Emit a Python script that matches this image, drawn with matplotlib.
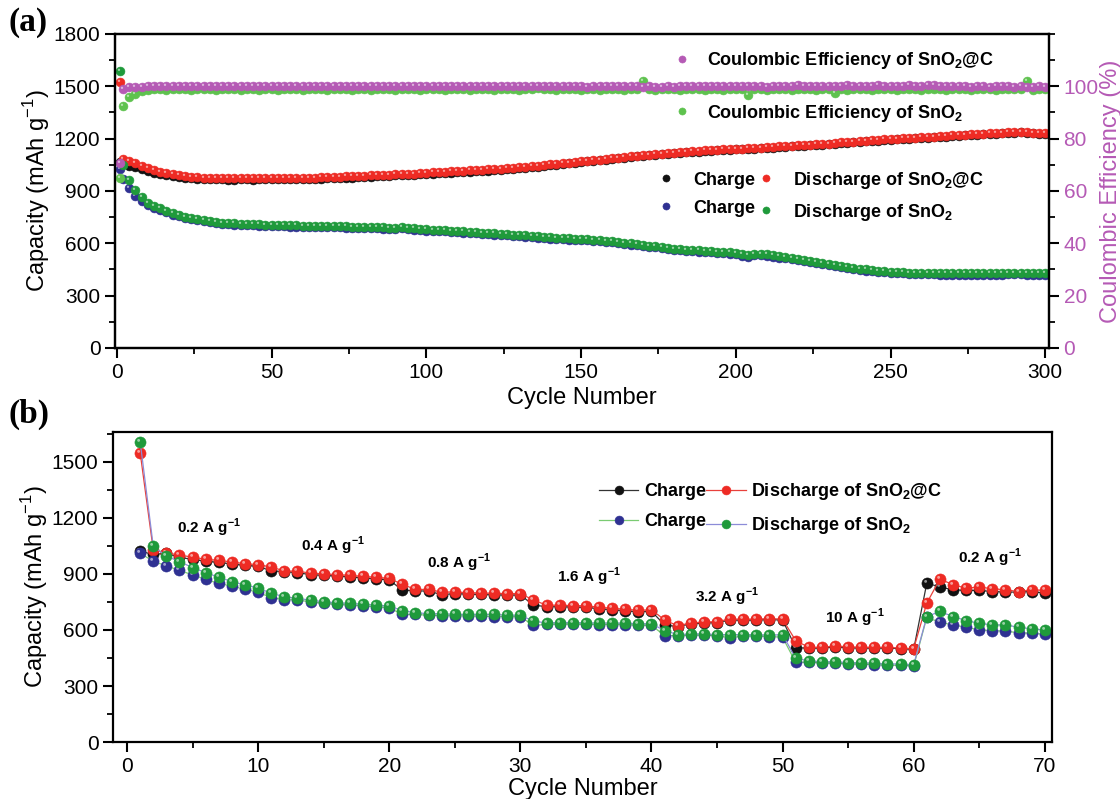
import numpy as np
import matplotlib
matplotlib.use("Agg")
import matplotlib.pyplot as plt
from matplotlib.path import Path
from matplotlib.ticker import MultipleLocator

plt.rcParams['font.family'] = ['Liberation Sans', 'DejaVu Sans']
plt.rcParams['mathtext.fontset'] = 'custom'
plt.rcParams['mathtext.rm'] = 'Liberation Sans'
plt.rcParams['mathtext.bf'] = 'Liberation Sans:bold'

# ---------------- (a) long cycling, every 2nd cycle ----------------
cyc_a = [1] + list(range(2, 301, 2))

dis_c = [1525,
         1085, 1070, 1058, 1045, 1032, 1020, 1010, 1002, 996, 990,
         985, 981, 978, 976, 975, 974, 973, 973, 972, 973,
         973, 972, 974, 973, 974, 975, 974, 975, 976, 976,
         977, 977, 978, 979, 980, 981, 983, 984, 986, 988,
         989, 991, 992, 994, 996, 997, 999, 1000, 1002, 1004,
         1006, 1008, 1010, 1012, 1014, 1016, 1018, 1020, 1022, 1024,
         1026, 1028, 1031, 1033, 1036, 1039, 1042, 1045, 1048, 1052,
         1055, 1059, 1062, 1066, 1070, 1073, 1077, 1080, 1084, 1088,
         1091, 1095, 1099, 1102, 1106, 1108, 1111, 1114, 1117, 1120,
         1123, 1125, 1128, 1130, 1133, 1135, 1137, 1139, 1140, 1142,
         1143, 1145, 1146, 1148, 1150, 1152, 1155, 1157, 1160, 1162,
         1164, 1166, 1168, 1170, 1172, 1175, 1178, 1180, 1183, 1186,
         1188, 1191, 1193, 1196, 1198, 1200, 1202, 1204, 1206, 1208,
         1210, 1212, 1214, 1216, 1218, 1220, 1222, 1224, 1226, 1228,
         1230, 1232, 1234, 1236, 1238, 1240, 1238, 1235, 1233, 1232]

chg_c = [1065,
         1055, 1045, 1035, 1025, 1015, 1005, 997, 990, 985, 980,
         976, 972, 970, 968, 967, 966, 966, 965, 965, 966,
         966, 965, 966, 966, 967, 967, 967, 968, 969, 969,
         970, 970, 971, 972, 973, 974, 976, 977, 979, 981,
         982, 984, 985, 987, 989, 990, 992, 993, 995, 997,
         999, 1001, 1003, 1005, 1007, 1009, 1011, 1013, 1015, 1017,
         1019, 1021, 1024, 1026, 1029, 1032, 1035, 1038, 1042, 1046,
         1050, 1054, 1058, 1062, 1066, 1069, 1073, 1076, 1080, 1084,
         1087, 1091, 1095, 1098, 1102, 1104, 1107, 1110, 1113, 1116,
         1119, 1121, 1124, 1126, 1129, 1131, 1133, 1135, 1136, 1138,
         1139, 1141, 1142, 1144, 1146, 1148, 1151, 1153, 1156, 1158,
         1160, 1162, 1164, 1166, 1168, 1171, 1174, 1176, 1179, 1182,
         1184, 1187, 1189, 1192, 1194, 1196, 1198, 1200, 1202, 1204,
         1206, 1208, 1210, 1212, 1214, 1216, 1218, 1220, 1222, 1224,
         1226, 1228, 1230, 1232, 1234, 1236, 1234, 1231, 1229, 1228]

dis_s = [1590,
         1049, 963, 906, 867, 833, 814, 801, 787, 772, 762,
         753, 744, 738, 732, 727, 723, 719, 717, 714, 712,
         711, 710, 709, 707, 706, 705, 704, 703, 703, 702,
         701, 701, 700, 699, 699, 698, 697, 696, 695, 694,
         693, 692, 691, 690, 689, 695, 688, 686, 683, 680,
         679, 677, 675, 672, 670, 668, 666, 664, 661, 659,
         657, 654, 652, 649, 647, 645, 643, 640, 637, 634,
         632, 630, 628, 627, 626, 624, 621, 618, 615, 612,
         608, 604, 600, 595, 591, 587, 583, 578, 574, 570,
         567, 564, 561, 559, 557, 555, 552, 550, 548, 545,
         540, 532, 538, 540, 536, 531, 525, 520, 515, 510,
         504, 498, 492, 486, 480, 475, 470, 465, 460, 455,
         451, 447, 444, 441, 438, 436, 434, 432, 431, 430,
         429, 429, 428, 428, 428, 428, 428, 428, 428, 428,
         428, 428, 428, 429, 429, 429, 428, 428, 428, 428]

chg_s = [1025,
         970, 915, 870, 845, 820, 804, 792, 779, 764, 754,
         745, 737, 731, 725, 720, 716, 712, 710, 707, 705,
         704, 703, 702, 700, 699, 698, 697, 696, 696, 695,
         694, 694, 693, 692, 692, 691, 690, 689, 688, 687,
         686, 685, 684, 683, 682, 688, 681, 679, 676, 673,
         672, 670, 668, 665, 663, 661, 659, 657, 654, 652,
         650, 647, 645, 642, 640, 638, 636, 633, 630, 627,
         625, 623, 621, 620, 619, 617, 614, 611, 608, 605,
         601, 597, 593, 588, 584, 580, 576, 571, 567, 563,
         560, 557, 554, 552, 550, 548, 545, 543, 541, 538,
         530, 522, 531, 533, 529, 524, 518, 513, 508, 503,
         497, 491, 485, 479, 473, 468, 463, 458, 453, 448,
         444, 440, 437, 434, 431, 429, 427, 425, 424, 423,
         422, 422, 421, 421, 421, 421, 421, 421, 421, 421,
         421, 421, 421, 422, 422, 422, 421, 421, 421, 421]

ce_c = [70.5,
        98.9, 99.6, 99.8, 99.9, 100.0, 100.0, 100.1, 100.0, 100.1, 100.0,
        100.1, 100.0, 100.2, 100.1, 100.0, 100.2, 100.1, 100.2, 100.0, 100.1,
        100.2, 100.1, 100.0, 100.2, 100.1, 100.2, 100.1, 100.0, 100.2, 100.1,
        100.2, 100.1, 100.3, 100.1, 100.2, 100.0, 100.2, 100.1, 100.3, 100.1,
        100.2, 100.0, 100.1, 100.2, 100.3, 100.1, 100.2, 100.0, 100.2, 100.1,
        100.2, 100.3, 100.1, 100.2, 100.0, 100.2, 100.1, 100.3, 100.1, 100.2,
        100.0, 100.2, 100.1, 100.2, 100.1, 100.3, 100.0, 100.2, 100.1, 100.2,
        100.1, 100.0, 100.2, 100.1, 100.0, 99.9, 100.0, 100.1, 100.0, 100.1,
        100.3, 100.1, 100.2, 100.0, 99.9, 100.0, 99.8, 99.9, 100.0, 99.9,
        100.1, 100.0, 100.2, 100.1, 100.0, 100.2, 100.1, 100.2, 100.3, 100.1,
        100.0, 100.2, 100.1, 100.0, 99.9, 100.0, 100.1, 100.2, 100.3, 100.6,
        100.2, 100.1, 100.0, 100.2, 100.3, 100.1, 100.2, 100.4, 100.2, 100.1,
        100.3, 100.2, 100.4, 100.2, 100.1, 100.3, 100.2, 100.5, 100.3, 100.2,
        100.6, 100.4, 100.2, 100.3, 100.1, 100.0, 100.2, 99.9, 100.1, 100.0,
        99.9, 100.1, 100.0, 100.2, 99.9, 100.0, 99.8, 99.9, 100.0, 99.9]

ce_s = [65.0,
        92.5, 96.0, 97.2, 98.2, 98.6, 98.8, 98.9, 98.7, 99.0, 98.8,
        98.9, 98.7, 98.9, 98.8, 99.0, 98.7, 98.9, 98.8, 99.0, 98.7,
        98.8, 99.0, 98.7, 98.9, 98.8, 98.7, 99.0, 98.8, 98.9, 98.7,
        98.9, 98.8, 99.0, 98.7, 98.9, 98.8, 99.0, 98.7, 98.9, 98.8,
        98.7, 99.0, 98.8, 98.9, 98.7, 99.1, 98.8, 98.9, 98.7, 99.0,
        98.8, 98.9, 98.7, 99.0, 98.8, 98.9, 98.7, 98.9, 98.8, 99.0,
        98.7, 98.9, 98.8, 99.0, 98.7, 98.9, 98.8, 99.2, 98.9, 98.8,
        98.7, 98.9, 98.8, 99.0, 98.7, 98.8, 98.9, 98.7, 99.0, 98.8,
        98.9, 98.7, 99.0, 98.8, 102.2, 98.9, 98.7, 99.0, 98.8, 98.9,
        98.7, 98.9, 98.8, 99.0, 98.7, 98.9, 98.8, 98.7, 99.0, 98.8,
        98.9, 96.8, 98.8, 99.0, 98.7, 98.9, 98.8, 99.0, 98.7, 98.9,
        98.8, 99.0, 98.7, 98.9, 98.8, 97.4, 98.9, 98.7, 99.0, 98.8,
        98.9, 98.7, 99.0, 98.8, 98.9, 98.7, 99.0, 98.8, 98.9, 98.7,
        99.0, 98.8, 98.9, 98.7, 99.0, 98.8, 98.9, 98.7, 99.0, 98.8,
        98.9, 98.7, 99.0, 98.8, 98.9, 99.0, 101.9, 98.7, 98.8, 98.9]

# ---------------- (b) rate capability ----------------
cyc_b = list(range(1, 71))
rb_chg_c = [1021, 1005, 1010, 989, 978, 968, 962, 953, 946, 941,
            916, 913, 906, 897, 892, 889, 884, 879, 874, 868,
            813, 810, 808, 789, 795, 792, 790, 788, 787, 787,
            733, 725, 724, 723, 721, 714, 708, 703, 697, 700,
            627, 618, 633, 637, 640, 653, 653, 653, 656, 653,
            505, 503, 503, 510, 505, 503, 503, 503, 500, 497,
            851, 830, 815, 812, 812, 806, 803, 803, 806, 797]
rb_dis_c = [1550, 1028, 1014, 1000, 991, 978, 973, 964, 955, 950,
            937, 916, 914, 905, 900, 897, 892, 887, 882, 876,
            844, 817, 817, 803, 803, 800, 798, 796, 795, 795,
            760, 733, 732, 731, 729, 722, 716, 711, 705, 708,
            654, 622, 638, 642, 645, 658, 658, 658, 661, 658,
            543, 507, 507, 514, 510, 507, 507, 507, 503, 500,
            744, 873, 842, 824, 830, 821, 815, 806, 815, 812]
rb_chg_s = [1011, 968, 943, 919, 895, 871, 849, 835, 817, 803,
            772, 763, 760, 751, 742, 737, 733, 729, 724, 719,
            683, 683, 679, 676, 676, 675, 674, 672, 671, 671,
            624, 630, 632, 632, 630, 629, 629, 628, 626, 625,
            570, 570, 573, 572, 570, 557, 568, 568, 565, 561,
            426, 428, 423, 423, 418, 418, 414, 411, 411, 407,
            668, 641, 627, 615, 600, 597, 593, 586, 582, 577]
rb_dis_s = [1609, 1048, 996, 966, 934, 907, 882, 859, 841, 825,
            796, 778, 769, 760, 751, 746, 742, 738, 733, 728,
            704, 693, 687, 687, 683, 683, 683, 683, 679, 679,
            647, 638, 640, 640, 638, 637, 637, 636, 634, 633,
            597, 575, 579, 579, 575, 575, 575, 575, 572, 575,
            448, 435, 430, 430, 425, 425, 421, 418, 418, 414,
            672, 699, 672, 650, 636, 627, 627, 615, 606, 600]

rate_text = ['0.2 A g$^{\\mathbf{-1}}$', '0.4 A g$^{\\mathbf{-1}}$', '0.8 A g$^{\\mathbf{-1}}$',
             '1.6 A g$^{\\mathbf{-1}}$', '3.2 A g$^{\\mathbf{-1}}$', '10 A g$^{\\mathbf{-1}}$',
             '0.2 A g$^{\\mathbf{-1}}$']
rate_x = [3.8, 13.3, 22.9, 32.8, 43.3, 53.2, 63.4]
rate_y = [1145, 1052, 962, 885, 780, 665, 985]

BLACK = '#111111'
RED = '#ee2b24'
NAVY = '#2f3192'
GREEN = '#1f9a3b'
LGREEN = '#5ec24e'
PURPLE = '#b55ab5'

# small bright spot in the upper left of each ball
circ = Path.circle(center=(-0.17, 0.19), radius=0.13)
shine = Path(np.vstack([[[0.5, 0.5]], circ.vertices]),
             np.concatenate([[Path.MOVETO], circ.codes]))


def balls(ax, x, y, color, ms, label=None, lc=None, lw=0.9):
    if lc is None:
        ax.plot(x, y, ls='none', marker='o', ms=ms, mfc=color, mec=color,
                mew=0.4, label=label)
    else:
        ax.plot(x, y, ls='-', color=lc, lw=lw, marker='o', ms=ms, mfc=color,
                mec=color, mew=0.4, label=label)
    ax.plot(x, y, ls='none', marker=shine, ms=ms, mfc='white', mec='none',
            alpha=0.55)


def style(ax, lw=1.6):
    for s in ax.spines.values():
        s.set_linewidth(lw)
    ax.tick_params(which='major', direction='out', length=7, width=1.5, labelsize=15)
    ax.tick_params(which='minor', direction='out', length=4, width=1.3)


fig = plt.figure(figsize=(11.2, 7.99), dpi=100)

# ---------- panel (a) ----------
ax1 = fig.add_axes([0.1027, 0.5645, 0.8339, 0.3930])
ax2 = ax1.twinx()

balls(ax1, cyc_a, chg_c, BLACK, 6.4, 'Charge')
balls(ax1, cyc_a, dis_c, RED, 6.4, 'Discharge of SnO$_\\mathbf{2}$@C')
balls(ax1, cyc_a, chg_s, NAVY, 6.4, 'Charge')
balls(ax1, cyc_a, dis_s, GREEN, 6.4, 'Discharge of SnO$_\\mathbf{2}$')
balls(ax2, cyc_a, ce_s, LGREEN, 6.4, 'Coulombic Efficiency of SnO$_\\mathbf{2}$')
balls(ax2, cyc_a, ce_c, PURPLE, 6.4, 'Coulombic Efficiency of SnO$_\\mathbf{2}$@C')

ax1.set_xlim(-0.6, 301.2)
ax1.set_ylim(0, 1800)
ax2.set_ylim(0, 120)
ax1.xaxis.set_major_locator(MultipleLocator(50))
ax1.xaxis.set_minor_locator(MultipleLocator(25))
ax1.yaxis.set_major_locator(MultipleLocator(300))
ax1.yaxis.set_minor_locator(MultipleLocator(150))
ax2.set_yticks([0, 20, 40, 60, 80, 100])
ax2.yaxis.set_minor_locator(MultipleLocator(10))
style(ax1)
style(ax2)
ax2.tick_params(axis='y', labelcolor=PURPLE)
ax1.set_xlabel('Cycle Number', fontsize=17, labelpad=4)
ax1.set_ylabel('Capacity (mAh g$^{-1}$)', fontsize=17, labelpad=1)
ax2.set_ylabel('Coulombic Efficiency (%)', fontsize=17, color=PURPLE, labelpad=1)

h1, l1 = ax1.get_legend_handles_labels()
ax1.legend([h1[0], h1[2], h1[1], h1[3]], [l1[0], l1[2], l1[1], l1[3]],
           ncol=2, loc='upper left', bbox_to_anchor=(0.563, 0.62),
           frameon=False, prop={'weight': 'bold', 'size': 13},
           handlelength=1.0, handletextpad=1.0, columnspacing=0.1,
           labelspacing=0.62, markerscale=0.8)
h2, l2 = ax2.get_legend_handles_labels()
ax2.legend([h2[1], h2[0]], [l2[1], l2[0]], loc='upper left',
           bbox_to_anchor=(0.58, 1.0), frameon=False,
           prop={'weight': 'bold', 'size': 13}, handlelength=1.0,
           handletextpad=0.9, labelspacing=1.75, markerscale=0.8)

fig.text(0.008, 0.972, '(a)', fontsize=24, fontweight='bold',
         family='Liberation Serif', va='center')

# ---------- panel (b) ----------
ax3 = fig.add_axes([0.1009, 0.0713, 0.8384, 0.3880])
balls(ax3, cyc_b, rb_chg_c, BLACK, 8, 'Charge', lc='#333333')
balls(ax3, cyc_b, rb_dis_c, RED, 8, 'Discharge of SnO$_\\mathbf{2}$@C', lc='#e8413c')
balls(ax3, cyc_b, rb_chg_s, NAVY, 8, 'Charge', lc='#7acb72')
balls(ax3, cyc_b, rb_dis_s, GREEN, 8, 'Discharge of SnO$_\\mathbf{2}$', lc='#8c8cd8')

for t, x, y in zip(rate_text, rate_x, rate_y):
    ax3.text(x, y, t, fontsize=11, fontweight='bold', ha='left', va='center')

ax3.set_xlim(-1.07, 70.55)
ax3.set_ylim(0, 1660)
ax3.xaxis.set_major_locator(MultipleLocator(10))
ax3.xaxis.set_minor_locator(MultipleLocator(5))
ax3.yaxis.set_major_locator(MultipleLocator(300))
ax3.yaxis.set_minor_locator(MultipleLocator(150))
style(ax3)
ax3.set_xlabel('Cycle Number', fontsize=17, labelpad=2)
ax3.set_ylabel('Capacity (mAh g$^{-1}$)', fontsize=17, labelpad=1)

h3, l3 = ax3.get_legend_handles_labels()
ax3.legend([h3[0], h3[2], h3[1], h3[3]], [l3[0], l3[2], l3[1], l3[3]],
           ncol=2, loc='upper left', bbox_to_anchor=(0.5, 0.895),
           frameon=False, prop={'weight': 'bold', 'size': 13},
           handlelength=2.2, handletextpad=0.3, columnspacing=0.0,
           labelspacing=0.72, markerscale=0.8)

fig.text(0.008, 0.481, '(b)', fontsize=24, fontweight='bold',
         family='Liberation Serif', va='center')

fig.savefig('out.png', dpi=100)
